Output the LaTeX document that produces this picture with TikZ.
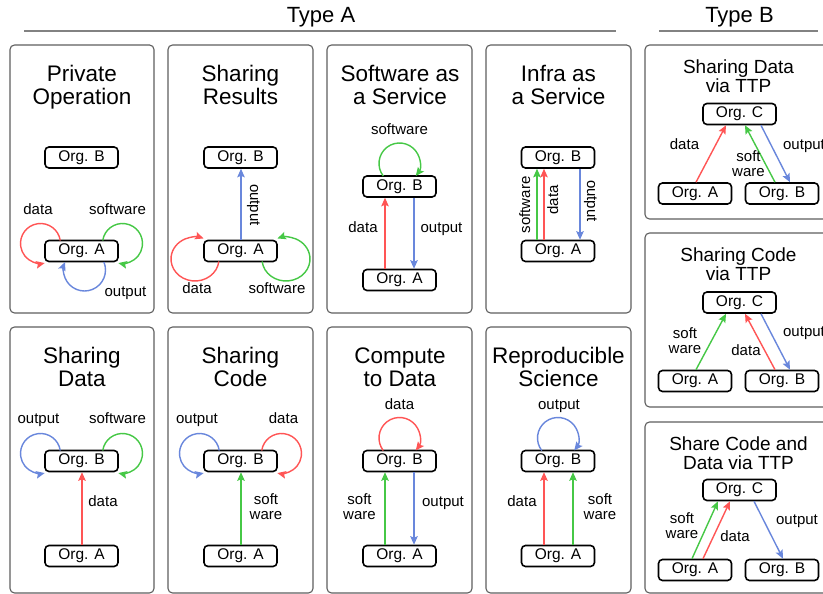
\documentclass[tikz,border=0pt]{standalone}
\usepackage{fontspec}
\setmainfont{Liberation Sans}
\usetikzlibrary{arrows.meta}
\definecolor{cred}{RGB}{255,85,85}
\definecolor{cgreen}{RGB}{70,200,70}
\definecolor{cblue}{RGB}{105,135,220}
\definecolor{panelgray}{RGB}{95,95,95}
\definecolor{rulegray}{RGB}{130,130,130}
\begin{document}
\begin{tikzpicture}[x=1pt,y=1pt,
 org/.style={draw=black, line width=1.6pt, rounded corners=4pt, minimum width=73pt, minimum height=21pt, inner sep=0pt, font=\fontsize{15.5}{17}\selectfont},
 panel/.style={draw=panelgray, line width=1.1pt, rounded corners=4.5pt},
 hdr/.style={font=\fontsize{22}{22}\selectfont, anchor=base, inner sep=0pt},
 ttl/.style={font=\fontsize{22.5}{23}\selectfont, anchor=base, inner sep=0pt},
 ttlb/.style={font=\fontsize{19}{19}\selectfont, anchor=base, inner sep=0pt},
 lbl/.style={font=\fontsize{15}{15}\selectfont, inner sep=0pt, align=center, text height=11pt, text depth=3pt},
 lbl2/.style={font=\fontsize{15}{15}\selectfont, inner sep=0pt, align=center},
 flow/.style={line width=1.4pt, -{Stealth[length=8.5pt,width=7.5pt,inset=1.5pt]}},
 rd/.style={flow, color=cred},
 gr/.style={flow, color=cgreen},
 bl/.style={flow, color=cblue},
 rulel/.style={draw=rulegray, line width=1.3pt}
]
\useasboundingbox (0,0) rectangle (823,594);
\fill[white] (0,0) rectangle (823,594);
\clip (0,0) rectangle (823,594);

% headers
\node[hdr] (hA) at (321,594-23) {Type A};
\node[hdr] (hB) at (739.5,594-23) {Type B};
\draw[rulel] (24,594-31) -- (616,594-31);
\draw[rulel] (659,594-31) -- (818,594-31);

% panels
\draw[panel] (10,594-45) rectangle (154,594-313);
\draw[panel] (168,594-45) rectangle (313,594-313);
\draw[panel] (327,594-45) rectangle (472,594-313);
\draw[panel] (486,594-45) rectangle (631,594-313);
\draw[panel] (10,594-327) rectangle (154,594-593);
\draw[panel] (168,594-327) rectangle (313,594-593);
\draw[panel] (327,594-327) rectangle (472,594-593);
\draw[panel] (486,594-327) rectangle (631,594-593);
\draw[panel] (645,594-45) rectangle (840,594-219);
\draw[panel] (645,594-233) rectangle (840,594-407);
\draw[panel] (645,594-422) rectangle (840,594-593);

% titles
\node[ttl] (t1a) at (82,594-82) {Private};
\node[ttl] (t1b) at (82,594-105) {Operation};
\node[ttl] (t2a) at (240.5,594-82) {Sharing};
\node[ttl] (t2b) at (240.5,594-105) {Results};
\node[ttl] (t3a) at (400,594-82) {Software as};
\node[ttl] (t3b) at (400,594-105) {a Service};
\node[ttl] (t4a) at (558.5,594-82) {Infra as};
\node[ttl] (t4b) at (558.5,594-105) {a Service};
\node[ttl] (t5a) at (82,594-364) {Sharing};
\node[ttl] (t5b) at (82,594-387) {Data};
\node[ttl] (t6a) at (240.5,594-364) {Sharing};
\node[ttl] (t6b) at (240.5,594-387) {Code};
\node[ttl] (t7a) at (400,594-364) {Compute};
\node[ttl] (t7b) at (400,594-387) {to Data};
\node[ttl] (t8a) at (558.5,594-364) {Reproducible};
\node[ttl] (t8b) at (558.5,594-387) {Science};
\node[ttlb] (t9a) at (738.5,594-74) {Sharing Data};
\node[ttlb] (t9b) at (738.5,594-93) {via TTP};
\node[ttlb] (t10a) at (738.5,594-262) {Sharing Code};
\node[ttlb] (t10b) at (738.5,594-281) {via TTP};
\node[ttlb] (t11a) at (738.5,594-451) {Share Code and};
\node[ttlb] (t11b) at (738.5,594-470) {Data via TTP};

% org boxes
\node[org] (b1) at (81.5,594-157.5) {Org. B};
\node[org] (a1) at (81.5,594-251) {Org. A};
\node[org] (b2) at (240.5,594-157.5) {Org. B};
\node[org] (a2) at (240.5,594-251) {Org. A};
\node[org] (b3) at (399.5,594-186.5) {Org. B};
\node[org] (a3) at (399.5,594-280) {Org. A};
\node[org] (b4) at (558,594-157.5) {Org. B};
\node[org] (a4) at (558,594-251) {Org. A};
\node[org] (b5) at (81.5,594-461) {Org. B};
\node[org] (a5) at (81.5,594-556) {Org. A};
\node[org] (b6) at (240.5,594-461) {Org. B};
\node[org] (a6) at (240.5,594-556) {Org. A};
\node[org] (b7) at (399.5,594-461) {Org. B};
\node[org] (a7) at (399.5,594-556) {Org. A};
\node[org] (b8) at (558,594-461) {Org. B};
\node[org] (a8) at (558,594-556) {Org. A};
\node[org] (c9) at (739.5,594-114) {Org. C};
\node[org] (a9) at (695,594-193.5) {Org. A};
\node[org] (b9) at (782,594-193.5) {Org. B};
\node[org] (c10) at (739.5,594-302.5) {Org. C};
\node[org] (a10) at (695,594-381) {Org. A};
\node[org] (b10) at (782,594-381) {Org. B};
\node[org] (c11) at (739.5,594-490) {Org. C};
\node[org] (a11) at (695,594-570) {Org. A};
\node[org] (b11) at (782,594-570) {Org. B};

% panel 1: Private Operation
\draw[rd] (a1) ++(-41,7.5) ++(8.6:20) arc[start angle=8.6, end angle=282, radius=20];
\draw[gr] (a1) ++(41,7.5) ++(171.4:20) arc[start angle=171.4, end angle=-102, radius=20];
\draw[bl] (a1) ++(3,-19) ++(22.4:21) arc[start angle=22.4, end angle=-202.4, radius=21];
\node[lbl] (l1d) at (38,594-211) {data};
\node[lbl] (l1s) at (117.5,594-211) {software};
\node[lbl] (l1o) at (125.5,594-293) {output};

% panel 2: Sharing Results
\draw[bl] ([xshift=0.5pt]a2.north) -- ([xshift=0.5pt]b2.south);
\draw[rd] (a2) ++(-45.5,-8) ++(-6.5:24 and 22) arc[start angle=-6.5, end angle=-291, x radius=24, y radius=22];
\draw[gr] (a2) ++(45.5,-8) ++(186.5:24 and 22) arc[start angle=186.5, end angle=471, x radius=24, y radius=22];
\node[lbl, rotate=-90] (l2o) at (254,594-205) {output};
\node[lbl] (l2d) at (197,594-290) {data};
\node[lbl] (l2s) at (277,594-290) {software};

% panel 3: Software as a Service
\draw[rd] ([xshift=-14.5pt]a3.north) -- ([xshift=-14.5pt]b3.south);
\draw[bl] ([xshift=14.5pt]b3.south) -- ([xshift=14.5pt]a3.north);
\draw[gr] (b3) ++(0,23) ++(217.6:20.5) arc[start angle=217.6, end angle=-37.6, radius=20.5];
\node[lbl] (l3s) at (399.5,594-131) {software};
\node[lbl] (l3d) at (363,594-229) {data};
\node[lbl] (l3o) at (441.5,594-229) {output};

% panel 4: Infra as a Service
\draw[gr] ([xshift=-21pt]a4.north) -- ([xshift=-21pt]b4.south);
\draw[rd] ([xshift=-14pt]a4.north) -- ([xshift=-14pt]b4.south);
\draw[bl] ([xshift=22pt]b4.south) -- ([xshift=22pt]a4.north);
\node[lbl, rotate=90] (l4s) at (526,594-205) {software};
\node[lbl, rotate=90] (l4d) at (554,594-200) {data};
\node[lbl, rotate=-90] (l4o) at (591,594-201) {output};

% panel 5: Sharing Data
\draw[rd] ([xshift=0.5pt]a5.north) -- ([xshift=0.5pt]b5.south);
\draw[bl] (b5) ++(-41,7.5) ++(8.6:20) arc[start angle=8.6, end angle=282, radius=20];
\draw[gr] (b5) ++(41,7.5) ++(171.4:20) arc[start angle=171.4, end angle=-102, radius=20];
\node[lbl] (l5o) at (38.5,594-420) {output};
\node[lbl] (l5s) at (117.5,594-420) {software};
\node[lbl] (l5d) at (103,594-503) {data};

% panel 6: Sharing Code
\draw[gr] ([xshift=0.5pt]a6.north) -- ([xshift=0.5pt]b6.south);
\draw[bl] (b6) ++(-41,7.5) ++(8.6:20) arc[start angle=8.6, end angle=282, radius=20];
\draw[rd] (b6) ++(41,7.5) ++(171.4:20) arc[start angle=171.4, end angle=-102, radius=20];
\node[lbl] (l6o) at (197,594-420) {output};
\node[lbl] (l6d) at (283.5,594-420) {data};
\node[lbl2] (l6s) at (266,594-507) {soft\\ware};

% panel 7: Compute to Data
\draw[gr] ([xshift=-14.5pt]a7.north) -- ([xshift=-14.5pt]b7.south);
\draw[bl] ([xshift=14.5pt]b7.south) -- ([xshift=14.5pt]a7.north);
\draw[rd] (b7) ++(0,23) ++(217.6:20.5) arc[start angle=217.6, end angle=-37.6, radius=20.5];
\node[lbl] (l7d) at (399.5,594-406) {data};
\node[lbl2] (l7s) at (359.5,594-507) {soft\\ware};
\node[lbl] (l7o) at (443,594-503) {output};

% panel 8: Reproducible Science
\draw[rd] ([xshift=-14pt]a8.north) -- ([xshift=-14pt]b8.south);
\draw[gr] ([xshift=15pt]a8.north) -- ([xshift=15pt]b8.south);
\draw[bl] (b8) ++(0,23) ++(217.6:20.5) arc[start angle=217.6, end angle=-37.6, radius=20.5];
\node[lbl] (l8o) at (559,594-406) {output};
\node[lbl] (l8d) at (522,594-503) {data};
\node[lbl2] (l8s) at (600,594-507) {soft\\ware};

% panel 9: Sharing Data via TTP
\draw[rd] ([xshift=1pt]a9.north) -- ([xshift=-13.5pt]c9.south);
\draw[gr] ([xshift=-7pt]b9.north) -- ([xshift=5.5pt]c9.south);
\draw[bl] ([xshift=21.5pt]c9.south) -- ([xshift=8pt]b9.north);
\node[lbl] (l9d) at (684.5,594-146) {data};
\node[lbl2] (l9s) at (748.5,594-164) {soft\\ware};
\node[lbl] (l9o) at (804,594-146) {output};

% panel 10: Sharing Code via TTP
\draw[gr] ([xshift=1pt]a10.north) -- ([xshift=-13.5pt]c10.south);
\draw[rd] ([xshift=-7pt]b10.north) -- ([xshift=5.5pt]c10.south);
\draw[bl] ([xshift=21.5pt]c10.south) -- ([xshift=8pt]b10.north);
\node[lbl2] (l10s) at (685,594-341) {soft\\ware};
\node[lbl] (l10d) at (746,594-352) {data};
\node[lbl] (l10o) at (804,594-333) {output};

% panel 11: Share Code and Data via TTP
\draw[gr] ([xshift=-3pt]a11.north) -- ([xshift=-21.5pt]c11.south);
\draw[rd] ([xshift=8pt]a11.north) -- ([xshift=-9.5pt]c11.south);
\draw[bl] ([xshift=14.5pt]c11.south) -- ([xshift=1pt]b11.north);
\node[lbl2] (l11s) at (682,594-526) {soft\\ware};
\node[lbl] (l11d) at (735,594-538) {data};
\node[lbl] (l11o) at (797,594-521) {output};
\end{tikzpicture}
\end{document}
